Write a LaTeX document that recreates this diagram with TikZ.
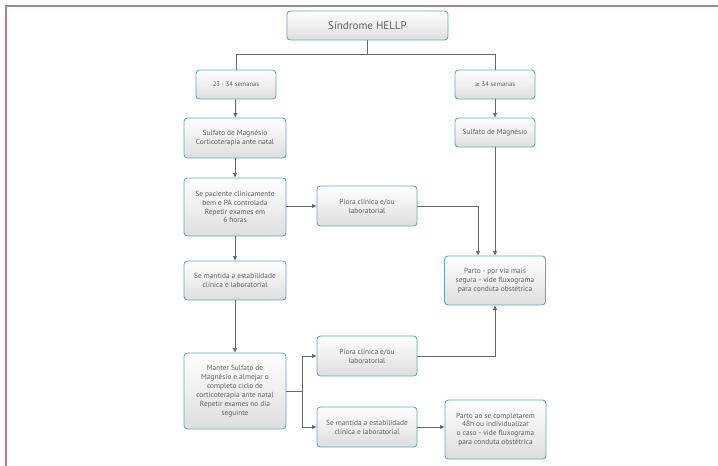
\documentclass[tikz,border=0pt]{standalone}
\usepackage{fontspec}
\setmainfont{PT Sans}
\newfontfamily\symfont{DejaVu Sans}
\usetikzlibrary{arrows.meta,calc}
\definecolor{boxborder}{RGB}{92,170,192}
\definecolor{txt}{RGB}{95,95,95}
\definecolor{linec}{RGB}{105,105,105}
\definecolor{framec}{RGB}{165,135,135}
\tikzset{
  box/.style={draw=boxborder, line width=0.9pt, rounded corners=3.5pt,
    top color=white, bottom color=black!13, text=txt, align=center,
    font=\fontsize{7.4}{8.9}\selectfont, inner sep=1pt},
  conn/.style={draw=linec, line width=1pt},
  arr/.style={conn, -{Triangle[length=4.5pt,width=3.8pt]}}
}
\begin{document}
\begin{tikzpicture}[x=1pt,y=-1pt]
\useasboundingbox (0,0) rectangle (718,466);
\draw[framec, line width=1.4pt] (6,466) -- (6,6) -- (718,6);

\node[box, minimum width=161pt, minimum height=29pt, font=\fontsize{11}{13}\selectfont] (title) at (367.5,25.5) {Síndrome HELLP};

\node[box, minimum width=80pt, minimum height=29pt, font=\fontsize{6.6}{8}\selectfont] (w1) at (236,84.5) {23 - 34 semanas};
\node[box, minimum width=80pt, minimum height=29pt, font=\fontsize{6.6}{8}\selectfont] (w2) at (495,84.5) {{\symfont\fontsize{6}{8}\selectfont ≥} 34 semanas};

\node[box, minimum width=102pt, minimum height=40pt] (s1) at (235,138) {Sulfato de Magnésio\\Corticoterapia ante natal};
\node[box, minimum width=80pt, minimum height=29pt] (s2) at (495,132.5) {Sulfato de Magnésio};

\node[box, minimum width=102pt, minimum height=58pt] (p1) at (235,207) {Se paciente clinicamente\\bem e PA controlada\\Repetir exames em\\6 horas};
\node[box, minimum width=100pt, minimum height=40pt] (pi1) at (367,206) {Piora clínica e/ou\\laboratorial};

\node[box, minimum width=101pt, minimum height=49pt] (parto) at (495,280.5) {Parto - por via mais\\segura - vide fluxograma\\para conduta obstétrica};

\node[box, minimum width=102pt, minimum height=39pt] (m1) at (235,280.5) {Se mantida a estabilidade\\clínica e laboratorial};

\node[box, minimum width=102pt, minimum height=76pt] (man) at (235,391) {Manter Sulfato de\\Magnésio e almejar o\\completo ciclo de\\corticoterapia ante natal\\Repetir exames no dia\\seguinte};

\node[box, minimum width=100pt, minimum height=40pt] (pi2) at (367,356) {Piora clínica e/ou\\laboratorial};
\node[box, minimum width=100pt, minimum height=40pt] (sm2) at (367,427) {Se mantida a estabilidade\\clínica e laboratorial};
\node[box, minimum width=101pt, minimum height=59pt] (parto2) at (495.5,429.5) {Parto ao se completarem\\48h ou individualizar\\o caso - vide fluxograma\\para conduta obstétrica};

% connectors
\coordinate (j) at (367.5,54);
\draw[conn] (title.south) -- (j);
\draw[conn] (j) -| (w1.north);
\draw[conn] (j) -| (w2.north);
\draw[arr] (w1) -- (s1);
\draw[arr] (w2) -- (s2);
\draw[arr] (s1) -- (p1);
\draw[arr] (p1.east |- pi1.west) -- (pi1.west);
\draw[arr] (pi1.east) -| ([xshift=-17pt]parto.north);
\draw[arr] (s2.south) -- (parto.north);
\draw[arr] (p1) -- (m1);
\draw[arr] (m1) -- (man);
\coordinate (b) at (302,391);
\draw[conn] (man.east) -- (b);
\draw[arr] (b) |- (pi2.west);
\draw[arr] (b) |- (sm2.west);
\draw[arr] (pi2.east) -| (parto.south);
\draw[arr] (sm2.east) -- (sm2.east -| parto2.west);
\end{tikzpicture}
\end{document}
